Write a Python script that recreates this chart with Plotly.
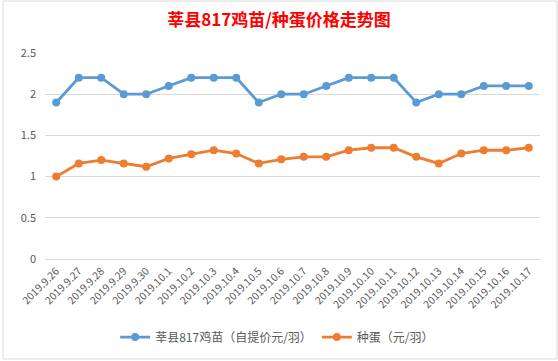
import plotly.graph_objects as go

dates = ["2019.9.26", "2019.9.27", "2019.9.28", "2019.9.29", "2019.9.30",
         "2019.10.1", "2019.10.2", "2019.10.3", "2019.10.4", "2019.10.5",
         "2019.10.6", "2019.10.7", "2019.10.8", "2019.10.9", "2019.10.10",
         "2019.10.11", "2019.10.12", "2019.10.13", "2019.10.14", "2019.10.15",
         "2019.10.16", "2019.10.17"]
chick_price = [1.9, 2.2, 2.2, 2.0, 2.0, 2.1, 2.2, 2.2, 2.2, 1.9, 2.0,
               2.0, 2.1, 2.2, 2.2, 2.2, 1.9, 2.0, 2.0, 2.1, 2.1, 2.1]
egg_price = [1.0, 1.16, 1.2, 1.16, 1.12, 1.22, 1.27, 1.32, 1.28, 1.16, 1.21,
             1.24, 1.24, 1.32, 1.35, 1.35, 1.24, 1.16, 1.28, 1.32, 1.32, 1.35]
name_chick = "莘县817鸡苗（自提价元/羽）"
name_egg = "种蛋（元/羽）"
title_text = "莘县817鸡苗/种蛋价格走势图"

font_family = "Noto Sans CJK SC, Noto Sans, sans-serif"

fig = go.Figure()
fig.add_trace(go.Scatter(x=dates, y=chick_price, name=name_chick, mode="lines+markers",
                         line=dict(color="#5B9BD5", width=2.8),
                         marker=dict(color="#5B9BD5", size=8)))
fig.add_trace(go.Scatter(x=dates, y=egg_price, name=name_egg, mode="lines+markers",
                         line=dict(color="#ED7D31", width=2.8),
                         marker=dict(color="#ED7D31", size=8)))

fig.update_layout(
    width=558, height=361,
    margin=dict(l=45, r=18, t=53, b=102, autoexpand=False),
    paper_bgcolor="white", plot_bgcolor="white",
    font=dict(family=font_family, color="#595959"),
    title=dict(text="<b>" + title_text + "</b>", x=0.5, xref="container", xanchor="center",
               y=1 - 20 / 361, yref="container", yanchor="middle",
               font=dict(size=17, color="#FF0000", family=font_family)),
    showlegend=True,
    legend=dict(orientation="h", x=0.469, xanchor="center",
                y=-0.379, yanchor="middle", font=dict(size=12, color="#595959"),
                bgcolor="rgba(0,0,0,0)", entrywidth=0),
    xaxis=dict(type="category", range=[-0.5, len(dates) - 0.5], tickangle=-45,
               showgrid=False, showline=False, ticks="", automargin=False,
               tickfont=dict(size=10.5, color="#595959"), ticklabelstandoff=3),
    yaxis=dict(range=[0, 2.5], dtick=0.5, tick0=0, showgrid=True, gridcolor="#D9D9D9",
               gridwidth=1, zeroline=True, zerolinecolor="#D9D9D9", zerolinewidth=1,
               showline=False, ticks="", automargin=False,
               tickfont=dict(size=11, color="#595959"), ticklabelstandoff=8),
    shapes=[dict(type="rect", xref="paper", yref="paper", x0=-42 / 495, x1=1 + 17 / 495,
                 y0=-100 / 206, y1=1 + 52 / 206, line=dict(color="#D9D9D9", width=1))],
)

fig.write_html("out.html", config={"displayModeBar": False},
               post_script="document.body.style.margin='0';document.body.style.padding='0';")
